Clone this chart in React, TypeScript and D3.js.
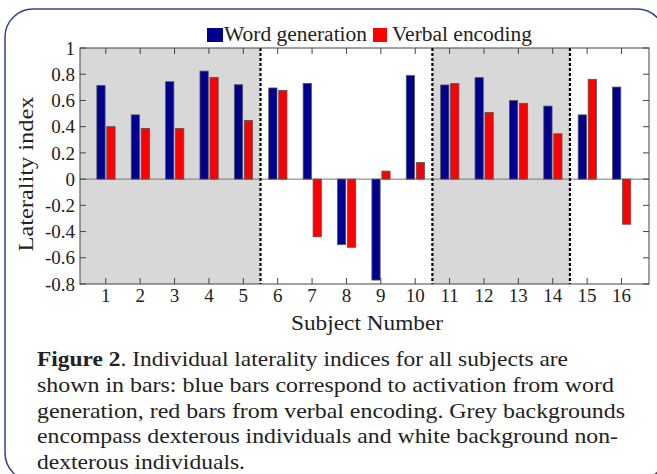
import React from "react";
import * as d3 from "d3";

const subjects = [1, 2, 3, 4, 5, 6, 7, 8, 9, 10, 11, 12, 13, 14, 15, 16];
const wordGeneration = [0.715, 0.49, 0.743, 0.824, 0.72, 0.695, 0.73, -0.5, -0.77, 0.79, 0.718, 0.774, 0.6, 0.557, 0.49, 0.702];
const verbalEncoding = [0.4, 0.387, 0.387, 0.776, 0.448, 0.677, -0.44, -0.52, 0.061, 0.127, 0.73, 0.509, 0.578, 0.346, 0.761, -0.344];
const yTicks = [-0.8, -0.6, -0.4, -0.2, 0, 0.2, 0.4, 0.6, 0.8, 1];
// grey = dexterous groups, bounds in subject units
const greyRanges = [
  [0.25, 5.5],
  [10.5, 14.5],
];
const dividers = [5.5, 10.5, 14.5];
const captionLines = [
  "shown in bars: blue bars correspond to activation from word",
  "generation, red bars from verbal encoding. Grey backgrounds",
  "encompass dexterous individuals and white background non-",
  "dexterous individuals.",
];
// measured widths of the caption lines (line 1 first)
const captionWidths = [531, 577, 588, 581, 208];

const W = 657;
const H = 474;
const FONT = "'Liberation Serif', 'Times New Roman', serif";

export default function App() {
  const plot = { left: 80, right: 649, top: 48, bottom: 284 };
  const x = d3.scaleLinear().domain([0.25, 16.8]).range([plot.left, plot.right]);
  const y = d3.scaleLinear().domain([-0.8, 1]).range([plot.bottom, plot.top]);
  const axisColor = "#444";
  const tickLen = 6;

  const bar = (v: number, x0: number, x1: number, fill: string, key: string) => (
    <rect
      key={key}
      x={x(x0)}
      y={Math.min(y(v), y(0))}
      width={x(x1) - x(x0)}
      height={Math.abs(y(v) - y(0))}
      fill={fill}
      stroke="#555"
      strokeWidth={0.8}
    />
  );

  return (
    <svg
      width={W}
      height={H}
      style={{ position: "absolute", left: 0, top: 0, background: "#fff" }}
      fontFamily={FONT}
    >
      {/* frame */}
      <rect x={5} y={9} width={660} height={472} rx={28} ry={28} fill="none" stroke="#34438a" strokeWidth={1.5} />

      {/* backgrounds */}
      {greyRanges.map(([a, b], i) => (
        <rect key={i} x={x(a)} y={plot.top} width={x(b) - x(a)} height={plot.bottom - plot.top} fill="#d8d8d8" />
      ))}

      {/* zero line */}
      <line x1={plot.left} x2={plot.right} y1={y(0)} y2={y(0)} stroke="#777" strokeWidth={1} />

      {/* bars */}
      {subjects.map((s, i) => (
        <g key={s}>
          {bar(wordGeneration[i], s - 0.26, s - 0.02, "#000090", "b")}
          {bar(verbalEncoding[i], s + 0.03, s + 0.27, "#ff0000", "r")}
        </g>
      ))}

      {/* dividers */}
      {dividers.map((d) => (
        <line key={d} x1={x(d)} x2={x(d)} y1={plot.top} y2={plot.bottom} stroke="#000" strokeWidth={2.2} strokeDasharray="3,2" />
      ))}

      {/* axes box */}
      <rect x={plot.left} y={plot.top} width={plot.right - plot.left} height={plot.bottom - plot.top} fill="none" stroke={axisColor} strokeWidth={1} />

      {/* x ticks */}
      {subjects.map((s) => (
        <g key={s}>
          <line x1={x(s)} x2={x(s)} y1={plot.bottom} y2={plot.bottom - tickLen} stroke={axisColor} />
          <line x1={x(s)} x2={x(s)} y1={plot.top} y2={plot.top + tickLen} stroke={axisColor} />
          <text x={x(s)} y={302} textAnchor="middle" fontSize={19} fill="#222">
            {s}
          </text>
        </g>
      ))}

      {/* y ticks */}
      {yTicks.map((t) => (
        <g key={t}>
          <line x1={plot.left} x2={plot.left + tickLen} y1={y(t)} y2={y(t)} stroke={axisColor} />
          <line x1={plot.right} x2={plot.right - tickLen} y1={y(t)} y2={y(t)} stroke={axisColor} />
          <text x={75} y={y(t)} dy="0.35em" textAnchor="end" fontSize={19} fill="#222">
            {String(Math.round(t * 10) / 10)}
          </text>
        </g>
      ))}

      {/* axis titles */}
      <text x={367} y={330} textAnchor="middle" fontSize={22} fill="#222" textLength={152} lengthAdjust="spacingAndGlyphs">
        Subject Number
      </text>
      <text
        transform="translate(33,174) rotate(-90)"
        textAnchor="middle"
        fontSize={22}
        fill="#222"
        textLength={155}
        lengthAdjust="spacingAndGlyphs"
      >
        Laterality index
      </text>

      {/* legend */}
      <rect x={207} y={28} width={16} height={14} fill="#000090" />
      <text x={224} y={41} fontSize={20} fill="#222" textLength={143} lengthAdjust="spacingAndGlyphs">
        Word generation
      </text>
      <rect x={373} y={28} width={14} height={14} fill="#ff0000" />
      <text x={392} y={41} fontSize={20} fill="#222" textLength={140} lengthAdjust="spacingAndGlyphs">
        Verbal encoding
      </text>

      {/* caption */}
      <text x={37} y={366} fontSize={21} fill="#222" textLength={captionWidths[0]} lengthAdjust="spacingAndGlyphs">
        <tspan fontWeight="bold">Figure 2</tspan>. Individual laterality indices for all subjects are
      </text>
      {captionLines.map((l, i) => (
        <text
          key={i}
          x={37}
          y={392 + i * 25.5}
          fontSize={21}
          fill="#222"
          textLength={captionWidths[i + 1]}
          lengthAdjust="spacingAndGlyphs"
        >
          {l}
        </text>
      ))}
    </svg>
  );
}
